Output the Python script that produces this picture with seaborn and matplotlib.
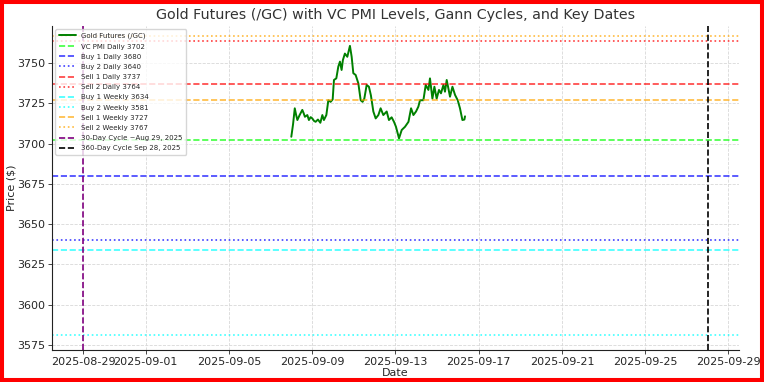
import matplotlib
matplotlib.use("Agg")
import matplotlib.pyplot as plt
from matplotlib.patches import Rectangle
import seaborn as sns
import pandas as pd
import numpy as np

# Hours after 2025-09-08 00:00 and gold futures prices
gold_hours = [0, 2, 4, 5.5, 7, 9.6, 12.7, 14.2, 15.7, 18.5, 20.3, 22.3, 24.2, 26.1, 28,
              30.7, 33.5, 35.8, 37.6, 40.4, 42.7, 45.3, 47.7, 49.2, 51.9, 54.2, 56.1, 58,
              59.5, 61.8, 64.6, 67.6, 69.6, 71.5, 74.2, 77.3, 80, 82.2, 84.2, 86.9, 89.5,
              91.8, 94.6, 97.3, 100.4, 103, 106.1, 110, 112.6, 115.7, 118.4, 120.7, 124.2,
              127.3, 131.1, 135.1, 138.1, 140.8, 143.8, 146.5, 148.4, 152.3, 155, 158.1,
              159.9, 162.7, 165, 167.6, 170.3, 172.6, 175.4, 177.2, 179.2, 181.1, 183,
              185.8, 188.8, 191.9, 194.5, 197.3, 199.6, 200.3]
gold_prices = [3704.3, 3712, 3722, 3718, 3714.7, 3717.8, 3721, 3719, 3716.7, 3717.8, 3714.7,
               3716.5, 3715.7, 3714.2, 3713.6, 3715, 3713, 3717.8, 3714.7, 3717.8, 3727,
               3726, 3727.5, 3739.6, 3740.6, 3747.9, 3751, 3745.8, 3752, 3756, 3754, 3760.8,
               3754, 3743.8, 3742.7, 3737.5, 3727, 3726, 3728, 3736.5, 3735.4, 3730, 3720,
               3715.7, 3717.8, 3722, 3717.8, 3720, 3714.7, 3716.4, 3713.6, 3710.5, 3703.3,
               3708.5, 3710.5, 3713.6, 3722, 3717.8, 3720, 3723, 3727, 3727, 3736.5, 3733.4,
               3740.6, 3728, 3735.4, 3728, 3733.4, 3731.3, 3736.5, 3732.3, 3739.6, 3734.4,
               3729.2, 3735.4, 3730.3, 3727, 3722, 3714.7, 3715, 3717]

level_labels = ["VC PMI Daily 3702", "Buy 1 Daily 3680", "Buy 2 Daily 3640",
                "Sell 1 Daily 3737", "Sell 2 Daily 3764", "Buy 1 Weekly 3634",
                "Buy 2 Weekly 3581", "Sell 1 Weekly 3727", "Sell 2 Weekly 3767"]
level_values = [3702, 3680, 3640, 3737, 3764, 3634, 3581, 3727, 3767]
level_colors = ["lime", "blue", "blue", "red", "red", "cyan", "cyan", "orange", "orange"]
level_styles = ["--", "--", ":", "--", ":", "--", ":", "--", ":"]

cycle_labels = ["30-Day Cycle ~Aug 29, 2025", "360-Day Cycle Sep 28, 2025"]
cycle_dates = ["2025-08-29", "2025-09-28"]
cycle_colors = ["purple", "black"]

start = pd.Timestamp("2025-09-08 00:00")
df = pd.DataFrame({
    "Date": [start + pd.Timedelta(hours=h) for h in gold_hours],
    "Price": gold_prices,
})

sns.set_style("ticks", {"axes.grid": True, "grid.linestyle": "--"})
plt.rcParams["font.family"] = ["DejaVu Sans"]

fig, ax = plt.subplots(figsize=(7.64, 3.82), dpi=100)
fig.subplots_adjust(left=0.068, right=0.967, top=0.932, bottom=0.084)

sns.lineplot(data=df, x="Date", y="Price", ax=ax, color="green", linewidth=1.4,
             label="Gold Futures (/GC)")
for lab, val, col, ls in zip(level_labels, level_values, level_colors, level_styles):
    ax.axhline(val, color=col, linestyle=ls, linewidth=1.2, alpha=0.75, label=lab)
for lab, d, col in zip(cycle_labels, cycle_dates, cycle_colors):
    ax.axvline(pd.Timestamp(d), color=col, linestyle="--", linewidth=1.2, label=lab)

ax.grid(True, linestyle="--", color="#d8d8d8", linewidth=0.6)
ax.set_title("Gold Futures (/GC) with VC PMI Levels, Gann Cycles, and Key Dates",
             fontsize=10.3, color="#333333", pad=5)
ax.set_xlabel("Date", fontsize=8, labelpad=1)
ax.set_ylabel("Price ($)", fontsize=8, labelpad=0)
ax.tick_params(labelsize=8, length=3, width=0.6, pad=2)
ax.set_yticks(np.arange(3575, 3751, 25))
sns.despine(ax=ax)
for s in ["left", "bottom"]:
    ax.spines[s].set_linewidth(0.8)
    ax.spines[s].set_color("#222222")

ax.legend(loc="upper left", fontsize=5.0, frameon=True, borderpad=0.5,
          labelspacing=0.6, handlelength=2.4)

fig.patches.append(Rectangle((0, 0), 1, 1, transform=fig.transFigure, fill=False,
                             edgecolor="red", linewidth=5.8, zorder=10))

fig.savefig("out.png", dpi=100)
